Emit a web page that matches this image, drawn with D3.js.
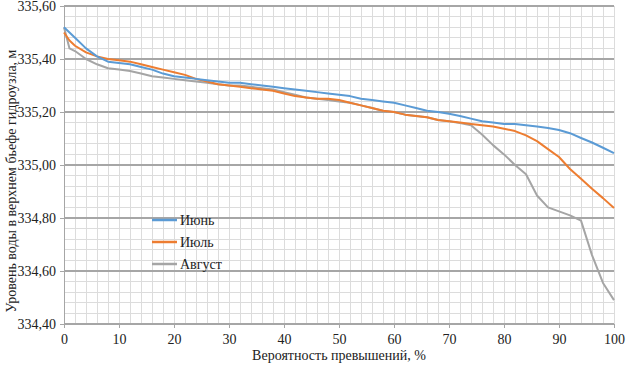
<!DOCTYPE html>
<html><head><meta charset="utf-8">
<script src="https://cdn.jsdelivr.net/npm/d3@7"></script>
<style>body{margin:0;background:#fff} svg text{font-family:"Liberation Serif","DejaVu Serif","Times New Roman",serif !important;}</style>
</head><body>
<svg id="c" width="627" height="368"></svg>
<script>
const probability = [0,1,2,4,6,8,10,12,14,16,18,20,22,24,26,28,30,32,34,36,38,40,42,44,46,48,50,52,54,56,58,60,62,64,66,68,70,72,74,76,78,80,82,84,86,88,90,92,94,96,98,100];
const june = [335.52,335.50,335.48,335.44,335.41,335.39,335.385,335.38,335.37,335.36,335.345,335.335,335.33,335.325,335.32,335.315,335.31,335.31,335.305,335.30,335.295,335.29,335.285,335.28,335.275,335.27,335.265,335.26,335.25,335.245,335.24,335.235,335.225,335.215,335.205,335.2,335.193,335.185,335.175,335.165,335.16,335.155,335.155,335.15,335.145,335.14,335.132,335.12,335.102,335.085,335.065,335.045];
const july = [335.50,335.47,335.45,335.425,335.41,335.40,335.395,335.39,335.38,335.37,335.36,335.35,335.34,335.325,335.315,335.305,335.30,335.295,335.29,335.285,335.28,335.27,335.26,335.255,335.25,335.25,335.245,335.235,335.225,335.215,335.205,335.20,335.19,335.185,335.18,335.17,335.165,335.16,335.155,335.15,335.145,335.137,335.128,335.112,335.09,335.06,335.03,334.985,334.948,334.91,334.875,334.838];
const august = [335.52,335.44,335.43,335.40,335.38,335.365,335.36,335.355,335.345,335.335,335.33,335.325,335.32,335.315,335.31,335.305,335.30,335.30,335.295,335.29,335.285,335.275,335.265,335.255,335.25,335.245,335.24,335.235,335.225,335.215,335.205,335.20,335.19,335.185,335.18,335.17,335.165,335.158,335.15,335.115,335.075,335.04,335.00,334.965,334.885,334.84,334.825,334.81,334.79,334.66,334.555,334.49];
const seriesNames = ["Июнь","Июль","Август"];
const seriesColors = ["#5b9bd5","#ed7d31","#a5a5a5"];
const xTicks = [0,10,20,30,40,50,60,70,80,90,100];
const yTicks = [334.4,334.6,334.8,335.0,335.2,335.4,335.6];

const svg = d3.select("#c");
const x = d3.scaleLinear().domain([0,100]).range([64,614]);
const y = d3.scaleLinear().domain([334.4,335.6]).range([324,6]);
const font = "Liberation Serif";

// minor grid
const minorX = d3.range(0,101,2);
const minorY = d3.range(0,31).map(i=>334.4+i*0.04);
svg.append("g").selectAll("line").data(minorX).join("line")
  .attr("x1",d=>x(d)).attr("x2",d=>x(d)).attr("y1",y(335.6)).attr("y2",y(334.4))
  .attr("stroke","#dcdcdc").attr("stroke-width",1).attr("shape-rendering","crispEdges");
svg.append("g").selectAll("line").data(minorY).join("line")
  .attr("x1",x(0)).attr("x2",x(100)).attr("y1",d=>y(d)).attr("y2",d=>y(d))
  .attr("stroke","#dcdcdc").attr("stroke-width",1).attr("shape-rendering","crispEdges");
// major horizontal grid
svg.append("g").selectAll("line").data(yTicks).join("line")
  .attr("x1",x(0)).attr("x2",x(100)).attr("y1",d=>y(d)).attr("y2",d=>y(d))
  .attr("stroke","#a6a6a6").attr("stroke-width",1.3).attr("shape-rendering","crispEdges");

// axes
const xAxis = d3.axisBottom(x).tickValues(xTicks).tickSize(4).tickFormat(d=>d);
const gx = svg.append("g").attr("transform",`translate(0,${y(334.4)})`).call(xAxis);
gx.attr("font-family",null);
gx.select(".domain").attr("stroke","#a6a6a6");
gx.selectAll(".tick line").attr("stroke","#a6a6a6");
gx.selectAll("text").attr("font-size",14).attr("fill","#222").attr("dy","0.95em");
const yAxis = d3.axisLeft(y).tickValues(yTicks).tickSize(4).tickFormat(d=>d.toFixed(2).replace(".",","));
const gy = svg.append("g").attr("transform",`translate(${x(0)},0)`).call(yAxis);
gy.attr("font-family",null);
gy.select(".domain").attr("stroke","#a6a6a6");
gy.selectAll(".tick line").attr("stroke","#a6a6a6");
gy.selectAll("text").attr("font-size",14).attr("fill","#222").attr("x",-8);

// lines
const data = [june, july, august];
const line = d3.line().x((d,i)=>x(probability[i])).y(d=>y(d));
[2,1,0].forEach(k=>{
  svg.append("path").datum(data[k]).attr("d",line)
    .attr("fill","none").attr("stroke",seriesColors[k]).attr("stroke-width",2)
    .attr("stroke-linejoin","round");
});

// legend
const lg = svg.append("g");
seriesNames.forEach((n,i)=>{
  const ly = 220 + i*22;
  lg.append("line").attr("x1",152).attr("x2",177).attr("y1",ly).attr("y2",ly)
    .attr("stroke",seriesColors[i]).attr("stroke-width",2.5);
  lg.append("text").attr("x",180).attr("y",ly).attr("dy","0.35em")
    .attr("font-size",14).attr("fill","#222").text(n);
});

// axis titles
svg.append("text").attr("x",339).attr("y",360).attr("text-anchor","middle")
  .attr("font-size",14).attr("fill","#222").text("Вероятность превышений, %");
svg.append("text").attr("transform",`translate(11,181) rotate(-90)`).attr("text-anchor","middle")
  .attr("dy","0.35em").attr("font-size",14).attr("fill","#222")
  .text("Уровень воды  в верхнем бьефе гидроузла, м");
</script>
</body></html>
